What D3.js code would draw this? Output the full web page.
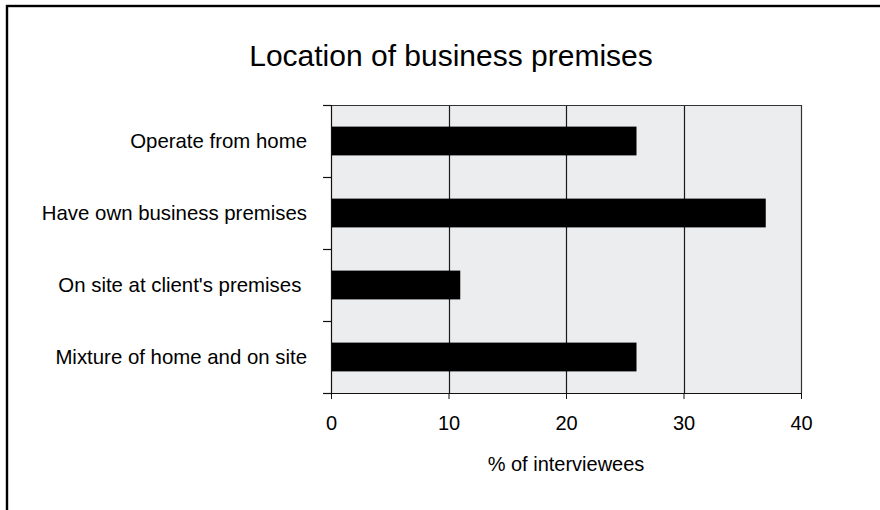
<!DOCTYPE html>
<html>
<head>
<meta charset="utf-8">
<script src="https://cdn.jsdelivr.net/npm/d3@7/dist/d3.min.js"></script>
<style>
  html, body { margin: 0; padding: 0; background: #fff; }
  svg { display: block; }
  text { font-family: "Liberation Sans", Arial, Helvetica, sans-serif; fill: #000; }
</style>
</head>
<body>
<svg id="chart" width="880" height="510"></svg>
<script>
const categories = [
  "Operate from home",
  "Have own business premises",
  "On site at client's premises ",
  "Mixture of home and on site"
];
const values = [26, 37, 11, 26];
const xTicks = [0, 10, 20, 30, 40];
const titleText = "Location of business premises";
const xAxisTitle = "% of interviewees";

const svg = d3.select("#chart");
const W = 880, H = 510;
const plot = { left: 331, right: 801, top: 105, bottom: 393 };

// outer frame (only left and top edges visible)
svg.append("rect")
  .attr("x", 7).attr("y", 6)
  .attr("width", W + 20).attr("height", H + 20)
  .attr("fill", "none").attr("stroke", "#000").attr("stroke-width", 2.4);

const x = d3.scaleLinear().domain([0, 40]).range([plot.left, plot.right]);
const y = d3.scaleBand().domain(categories).range([plot.top, plot.bottom])
  .paddingInner(0.6).paddingOuter(0.3);

// plot background
svg.append("rect")
  .attr("x", plot.left).attr("y", plot.top)
  .attr("width", plot.right - plot.left).attr("height", plot.bottom - plot.top)
  .attr("fill", "#ecedef");

// gridlines
svg.append("g").selectAll("line")
  .data(xTicks.filter(t => t > 0 && t < 40))
  .join("line")
  .attr("x1", d => Math.round(x(d)) + 0.5).attr("x2", d => Math.round(x(d)) + 0.5)
  .attr("y1", plot.top).attr("y2", plot.bottom)
  .attr("stroke", "#1a1a1a").attr("stroke-width", 1.2);

// plot frame top & right
svg.append("path")
  .attr("d", `M${plot.left},${plot.top + 0.5}H${plot.right + 0.5}V${plot.bottom}`)
  .attr("fill", "none").attr("stroke", "#333").attr("stroke-width", 1.2);

// bars
svg.append("g").selectAll("rect")
  .data(categories.map((c, i) => ({ c, v: values[i] })))
  .join("rect")
  .attr("x", x(0))
  .attr("y", d => y(d.c))
  .attr("width", d => x(d.v) - x(0))
  .attr("height", y.bandwidth())
  .attr("fill", "#000");

// x axis
const xAxis = d3.axisBottom(x).tickValues(xTicks).tickSize(6).tickPadding(17)
  .tickFormat(d3.format("d"));
const gx = svg.append("g").attr("transform", `translate(0,${plot.bottom})`).call(xAxis);
gx.select(".domain").attr("stroke", "#111").attr("stroke-width", 1.2)
  .attr("d", `M${plot.left - 8},0.5H${plot.right + 0.5}`);
gx.selectAll(".tick line").attr("stroke", "#111");
gx.selectAll(".tick text")
  .attr("font-family", "'Liberation Sans', Arial, sans-serif")
  .attr("font-size", 20).attr("fill", "#000");

// y axis: ticks at band boundaries
const boundaries = d3.range(categories.length + 1).map(i =>
  plot.top + i * (plot.bottom - plot.top) / categories.length);
svg.append("line")
  .attr("x1", plot.left + 0.5).attr("x2", plot.left + 0.5)
  .attr("y1", plot.top).attr("y2", plot.bottom)
  .attr("stroke", "#111").attr("stroke-width", 1.2);
svg.append("g").selectAll("line")
  .data(boundaries)
  .join("line")
  .attr("x1", plot.left - 8).attr("x2", plot.left)
  .attr("y1", d => Math.round(d) + 0.5).attr("y2", d => Math.round(d) + 0.5)
  .attr("stroke", "#111").attr("stroke-width", 1.2);

// category labels
svg.append("g").selectAll("text")
  .data(categories)
  .join("text")
  .attr("x", 307)
  .attr("y", d => y(d) + y.bandwidth() / 2)
  .attr("dy", "0.35em")
  .attr("text-anchor", "end")
  .attr("font-size", 20.4)
  .attr("xml:space", "preserve")
  .style("white-space", "pre")
  .text(d => d);

// title
svg.append("text")
  .attr("x", 451).attr("y", 66)
  .attr("text-anchor", "middle")
  .attr("font-size", 30)
  .text(titleText);

// axis title
svg.append("text")
  .attr("x", (plot.left + plot.right) / 2).attr("y", 471)
  .attr("text-anchor", "middle")
  .attr("font-size", 20)
  .text(xAxisTitle);
</script>
</body>
</html>
